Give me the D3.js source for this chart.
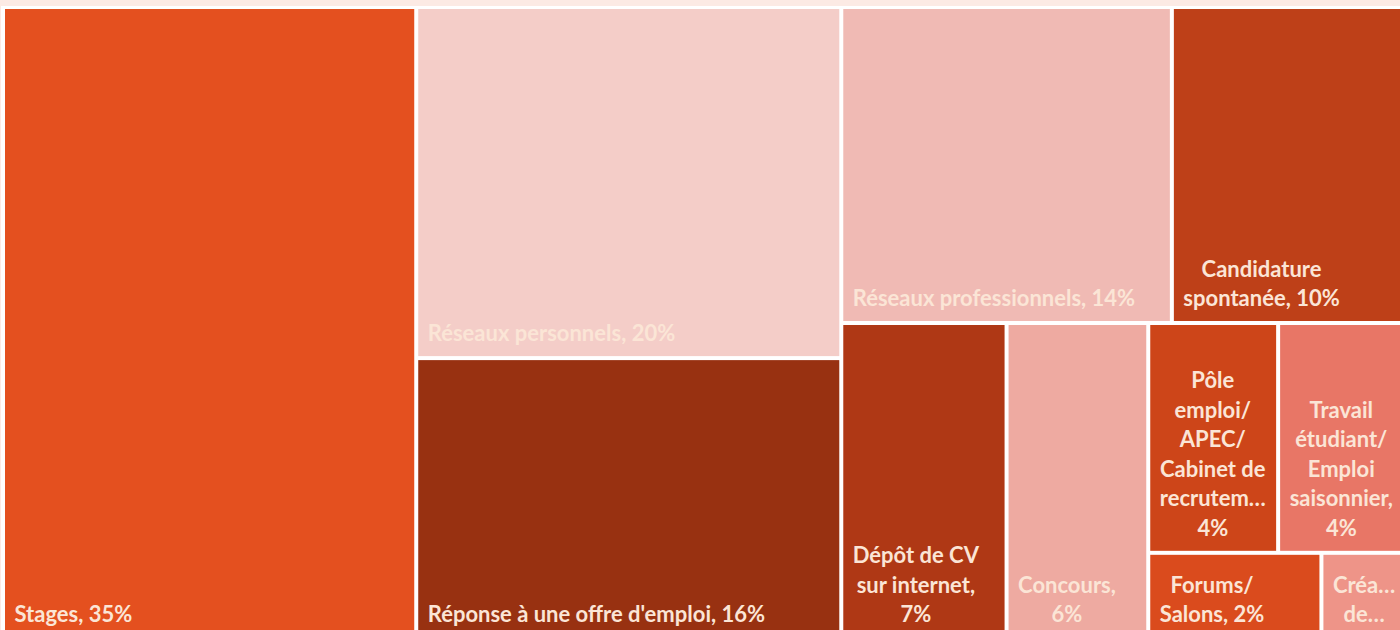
<!DOCTYPE html>
<html>
<head>
<meta charset="utf-8">
<script src="https://cdn.jsdelivr.net/npm/d3@7"></script>
<style>
  body { margin: 0; background: #fceae4; overflow: hidden; }
  svg { display: block; }
  .label { font-family: Lato, "Open Sans", sans-serif; font-weight: 700; font-size: 22px; fill: #fbe5d6; }
</style>
</head>
<body>
<div id="chart"></div>
<script>

// Data: ways the first job was found (share of respondents)
var categories = [
	"Stages",
	"Réseaux personnels",
	"Réponse à une offre d'emploi",
	"Réseaux professionnels",
	"Candidature spontanée",
	"Dépôt de CV sur internet",
	"Concours",
	"Pôle emploi/APEC/Cabinet de recrutement",
	"Travail étudiant/Emploi saisonnier",
	"Forums/Salons",
	"Création de son entreprise"
];
var percents = [35, 20, 16, 14, 10, 7, 6, 4, 4, 2, 1];
var cellColors = [
	"#e4501f", "#f4cdc8", "#983111", "#f0bab4", "#be4018", "#af3815",
	"#eeaaa1", "#cd4519", "#e87666", "#da4b1d", "#ee9488"
];

var width = 1400, height = 630;
var margin = { top: 9, left: 5 };
var treeW = 1401, treeH = 628;
var lineH = 29.5, padX = 9.5, padBottom = 15;

var svg = d3.select("#chart").append("svg")
	.attr("width", width)
	.attr("height", height);

// white plot area on the peach chart background
svg.append("rect")
	.attr("x", 1)
	.attr("y", 6)
	.attr("width", width + 20)
	.attr("height", height + 20)
	.attr("fill", "#ffffff");

var g = svg.append("g")
	.attr("transform", "translate(" + margin.left + "," + margin.top + ")");


/*
 * Squarified tiling, a bit more reluctant to grow a row than d3's own
 * (a row only takes the next cell when the worst aspect ratio clearly improves)
 */
function worstRatio(row, dx, dy, value) {
	var sum = d3.sum(row, function(d) { return d.value; });
	var thick = Math.max(dx, dy) * sum / value,
		side = Math.min(dx, dy);
	return d3.max(row, function(d) {
		var len = side * d.value / sum;
		return Math.max(thick / len, len / thick);
	});
}

function rowTile(parent, x0, y0, x1, y1) {
	var nodes = parent.children, value = parent.value, i0 = 0;
	while (i0 < nodes.length) {
		var dx = x1 - x0, dy = y1 - y0;
		var i1 = i0 + 1;
		var best = worstRatio(nodes.slice(i0, i1), dx, dy, value);
		while (i1 < nodes.length) {
			var next = worstRatio(nodes.slice(i0, i1 + 1), dx, dy, value);
			if (next > best * 0.8) break;
			best = next;
			i1++;
		}
		var row = { children: nodes.slice(i0, i1) };
		row.value = d3.sum(row.children, function(d) { return d.value; });
		if (dx < dy) d3.treemapDice(row, x0, y0, x1, y0 += dy * row.value / value);
		else d3.treemapSlice(row, x0, y0, x0 += dx * row.value / value, y1);
		value -= row.value;
		i0 = i1;
	}
}

var rows = categories.map(function(c, i) {
	return { name: c, value: percents[i], color: cellColors[i] };
});

var root = d3.hierarchy({ children: rows })
	.sum(function(d) { return d.value || 0; });

d3.treemap()
	.tile(rowTile)
	.size([treeW, treeH])
	.paddingInner(4)(root);

var leaves = root.leaves();

g.selectAll("rect.cell")
	.data(leaves)
	.enter().append("rect")
	.attr("class", "cell")
	.attr("x", function(d) { return d.x0; })
	.attr("y", function(d) { return d.y0; })
	.attr("width", function(d) { return d.x1 - d.x0; })
	.attr("height", function(d) { return d.y1 - d.y0; })
	.attr("fill", function(d) { return d.data.color; });


// Label wrapping: breaks at spaces and after slashes, long words get an ellipsis
var probe = svg.append("text").attr("class", "label").attr("visibility", "hidden");
function measure(s) {
	probe.text(s);
	return probe.node().getComputedTextLength();
}

function fitWord(s, maxW) {
	if (measure(s) <= maxW) return s;
	while (s.length > 1 && measure(s + "…") > maxW) s = s.slice(0, -1);
	return s + "…";
}

function wrapLabel(text, maxW, maxLines) {
	var tokens = [];
	text.split(" ").forEach(function(word, wi) {
		word.split(/(?<=\/)/).forEach(function(piece, pi) {
			tokens.push({ t: piece, sep: pi > 0 ? "" : (wi > 0 ? " " : "") });
		});
	});
	var lines = [], cur = [];
	function lineText(arr) {
		return arr.map(function(k, i) { return (i ? k.sep : "") + k.t; }).join("");
	}
	tokens.forEach(function(tok) {
		var cand = cur.concat([tok]);
		if (measure(lineText(cand)) <= maxW) { cur = cand; return; }
		if (cur.length) lines.push(cur);
		if (measure(tok.t) > maxW) {
			lines.push([{ t: fitWord(tok.t, maxW), sep: "" }]);
			cur = [];
		} else {
			cur = [tok];
		}
	});
	if (cur.length) lines.push(cur);

	if (lines.length > maxLines) {
		lines = lines.slice(0, maxLines);
		var last = lines[maxLines - 1];
		while (last.length > 1 && measure(lineText(last) + "…") > maxW) last = last.slice(0, -1);
		var lt = lineText(last);
		if (lt.slice(-1) !== "…") lt = fitWord(lt + "…", maxW).replace("……", "…");
		lines[maxLines - 1] = [{ t: lt, sep: "" }];
	}
	return lines.map(lineText);
}

leaves.forEach(function(d) {
	var label = d.data.name + ", " + d.data.value + "%";
	var cellW = d.x1 - d.x0, cellH = d.y1 - d.y0;
	var maxLines = Math.max(1, Math.floor((cellH - padBottom - 22) / lineH) + 1);
	var lines = wrapLabel(label, cellW - 2 * padX, maxLines);
	var blockW = d3.max(lines, measure);
	var cx = d.x0 + padX + blockW / 2;
	var bottom = d.y1 - padBottom;

	var t = g.append("text")
		.attr("class", "label")
		.attr("text-anchor", "middle");

	t.selectAll("tspan")
		.data(lines)
		.enter().append("tspan")
		.attr("x", cx)
		.attr("y", function(s, i) { return bottom - (lines.length - 1 - i) * lineH; })
		.text(function(s) { return s; });
});

probe.remove();

</script>
</body>
</html>
